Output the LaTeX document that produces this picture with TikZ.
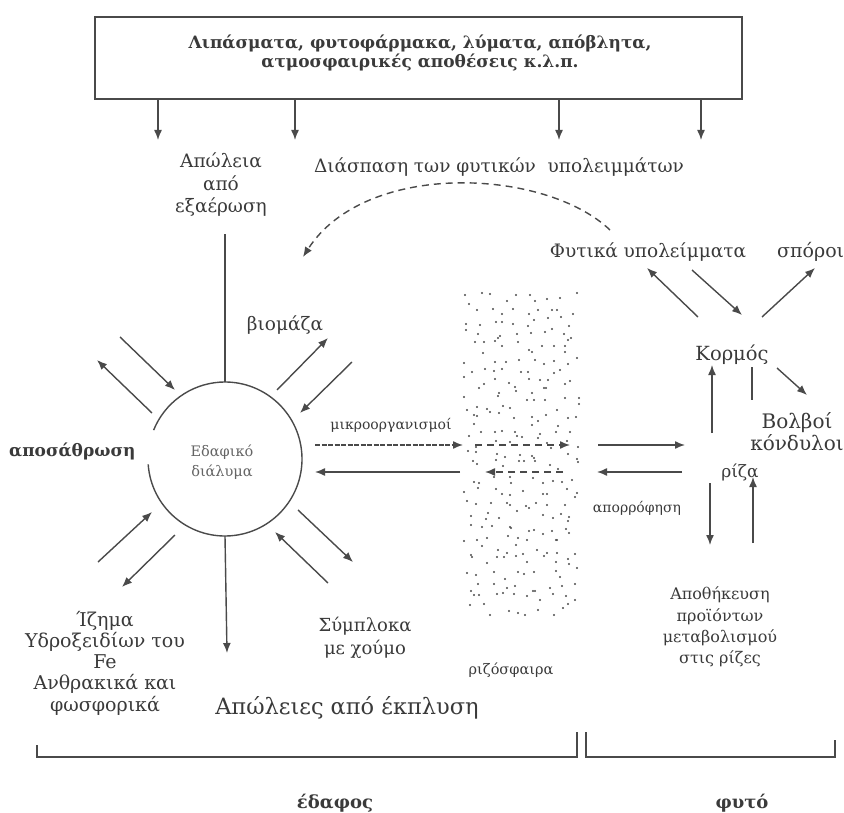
\documentclass[tikz,border=0pt]{standalone}
\usepackage{fontspec}
\setmainfont{DejaVu Serif}
\usetikzlibrary{arrows.meta}
\definecolor{ink}{HTML}{4A4A4A}
\definecolor{txt}{HTML}{3A3A3A}
\newcount\rndA \newcount\rndB \newcount\rndS
\global\rndS=20240
\def\myrand{%
  \rndA=\rndS \divide\rndA by 127773
  \rndB=\rndA \multiply\rndB by -127773 \advance\rndB by \rndS
  \multiply\rndB by 16807
  \multiply\rndA by 2836
  \advance\rndB by -\rndA
  \ifnum\rndB<1 \advance\rndB by 2147483647 \fi
  \global\rndS=\rndB}
\begin{document}
\begin{tikzpicture}[x=1pt,y=-1pt,
  ln/.style={draw=ink, line width=1.4pt},
  arr/.style={ln, -{Latex[length=10pt,width=8pt]}},
  dsh/.style={arr, dash pattern=on 7pt off 5pt},
  fdsh/.style={arr, dash pattern=on 5pt off 1.5pt},
  lbl/.style={text=txt, font=\fontsize{18.5}{22.5}\selectfont, align=center, inner sep=0pt},
  small/.style={lbl, font=\fontsize{14}{16}\selectfont},
  mid/.style={lbl, font=\fontsize{14.5}{20}\selectfont},
  big/.style={lbl, font=\fontsize{22.5}{26}\selectfont},
  bold/.style={lbl, font=\bfseries\fontsize{17}{18.5}\selectfont},
  dot/.style={fill=ink}]
\useasboundingbox[fill=white] (0,0) rectangle (844,813);

% source box
\node[draw=ink, line width=1.5pt, minimum width=647pt, minimum height=82pt, inner sep=0pt] (src) at (418.5,58) {};
\node[bold] (srctxt) at (420,53)
  {Λιπάσματα, φυτοφάρμακα, λύματα, απόβλητα,\\ατμοσφαιρικές αποθέσεις κ.λ.π.};
\coordinate (s1) at (158,140);
\coordinate (s2) at (295,140);
\coordinate (s3) at (559,140);
\coordinate (s4) at (701,140);
\foreach \s in {s1,s2,s3,s4}{\draw[arr] (src.south -| \s) -- (\s);}

% labels
\node[lbl] (evap) at (221,185) {Απώλεια\\από\\εξαέρωση};
\node[lbl] (decomp) at (499,167) {Διάσπαση των φυτικών \ υπολειμμάτων};
\node[lbl] (resid) at (648,252) {Φυτικά υπολείμματα};
\node[lbl, anchor=west, font=\fontsize{19}{22}\selectfont] (seeds) at (777,252) {σπόροι};
\node[lbl] (biom) at (285,325) {βιομάζα};
\node[lbl, font=\bfseries\fontsize{17}{20}\selectfont, anchor=west] (weath) at (9,451) {αποσάθρωση};
\node[lbl, font=\fontsize{19.5}{22}\selectfont] (stem) at (732,355) {Κορμός};
\node[lbl, font=\fontsize{20}{21.5}\selectfont] (bulb) at (797,432) {Βολβοί\\κόνδυλοι};
\node[lbl, font=\fontsize{17}{20}\selectfont] (root) at (740,472) {ρίζα};
\node[small] (micro) at (391,425) {μικροοργανισμοί};
\node[small] (absorb) at (637,508) {απορρόφηση};
\node[lbl, font=\fontsize{16}{21.3}\selectfont] (store) at (720,627) {Αποθήκευση\\προϊόντων\\μεταβολισμού\\στις ρίζες};
\node[lbl, font=\fontsize{19}{21.3}\selectfont] (sedim) at (105,663) {Ίζημα\\Υδροξειδίων του\\Fe\\Ανθρακικά και\\φωσφορικά};
\node[lbl, font=\fontsize{18}{23}\selectfont] (compl) at (365,638) {Σύμπλοκα\\με χούμο};
\node[mid] (rhizo) at (511,670) {ριζόσφαιρα};
\node[big] (leach) at (347,708) {Απώλειες από έκπλυση};
\node[lbl, font=\bfseries\fontsize{18}{20}\selectfont] (soil) at (335,803) {έδαφος};
\node[lbl, font=\bfseries\fontsize{18}{20}\selectfont] (plant) at (742,803) {φυτό};

% soil solution circle (gap on the left)
\node[circle, minimum size=154pt, inner sep=0pt] (sol) at (225,459) {};
\node[mid, text=ink!85] (soltxt) at (222,462) {Εδαφικό\\διάλυμα};
\draw[ln] (sol.center) ++(184:77pt) arc[start angle=184, end angle=518, radius=77pt];

% evaporation line and leaching arrow
\coordinate (ev) at (225,234);
\draw[ln] (sol.north) -- (ev);
\coordinate (lb) at (227,653);
\draw[arr] (sol.south) -- (lb);

% arrows around the circle
\coordinate (a1s) at (120,337); \coordinate (a1e) at (175,390);
\coordinate (a2s) at (152,413); \coordinate (a2e) at (97,360);
\coordinate (a3s) at (277,390); \coordinate (a3e) at (328,338);
\coordinate (a4s) at (352,362); \coordinate (a4e) at (300,413);
\coordinate (a5s) at (98,562);  \coordinate (a5e) at (152,512);
\coordinate (a6s) at (175,535); \coordinate (a6e) at (122,587);
\coordinate (a7s) at (328,583); \coordinate (a7e) at (275,532);
\coordinate (a8s) at (298,510); \coordinate (a8e) at (353,562);
\foreach \a in {a1,a2,a3,a4,a5,a6,a7,a8}{\draw[arr] (\a s) -- (\a e);}

% rhizosphere dots (jittered grid)
\foreach \c in {0,...,9}{
  \foreach \r in {0,...,26}{
    \myrand \rndA=\rndS \divide\rndA by 178956971
    \edef\px{\the\numexpr 464+\c*116/10+\rndA\relax}
    \myrand \rndA=\rndS \divide\rndA by 178956971
    \edef\py{\the\numexpr 292+\r*12+\rndA\relax}
    \fill[dot] (\px,\py) circle[radius=1.1pt];
  }
}

% horizontal exchanges
\coordinate (h1s) at (315,445); \coordinate (h1e) at (463,445);
\coordinate (h2s) at (475,445); \coordinate (h2e) at (570,445);
\coordinate (h3s) at (598,445); \coordinate (h3e) at (685,445);
\coordinate (h4s) at (563,472); \coordinate (h4e) at (485,472);
\coordinate (h5s) at (460,472); \coordinate (h5e) at (315,472);
\coordinate (h6s) at (682,472); \coordinate (h6e) at (597,472);
\draw[fdsh] (h1s) -- (h1e);
\draw[dsh] (h2s) -- (h2e);
\draw[arr] (h3s) -- (h3e);
\draw[dsh] (h4s) -- (h4e);
\draw[arr] (h5s) -- (h5e);
\draw[arr] (h6s) -- (h6e);

% plant side
\coordinate (k1s) at (712,433); \coordinate (k1e) at (712,365);
\coordinate (k2s) at (752,367); \coordinate (k2e) at (752,400);
\coordinate (k3s) at (777,368); \coordinate (k3e) at (807,395);
\coordinate (r1s) at (710,483); \coordinate (r1e) at (710,545);
\coordinate (r2s) at (753,543); \coordinate (r2e) at (753,477);
\draw[arr] (k1s) -- (k1e);
\draw[ln] (k2s) -- (k2e);
\draw[arr] (k3s) -- (k3e);
\draw[arr] (r1s) -- (r1e);
\draw[arr] (r2s) -- (r2e);

\coordinate (t1s) at (698,317); \coordinate (t1e) at (647,268);
\coordinate (t2s) at (692,270); \coordinate (t2e) at (742,315);
\coordinate (t3s) at (762,317); \coordinate (t3e) at (815,268);
\draw[arr] (t1s) -- (t1e);
\draw[arr] (t2s) -- (t2e);
\draw[arr] (t3s) -- (t3e);

% decomposition curve
\coordinate (dcs) at (610,230);
\coordinate (dce) at (303,257);
\draw[dsh] (dcs) .. controls (545,168) and (365,160) .. (dce);

% brackets
\draw[ln] (37,745) -- (37,757) -- (577,757) -- (577,732);
\draw[ln] (586,732) -- (586,757) -- (835,757) -- (835,740);
\end{tikzpicture}
\end{document}
